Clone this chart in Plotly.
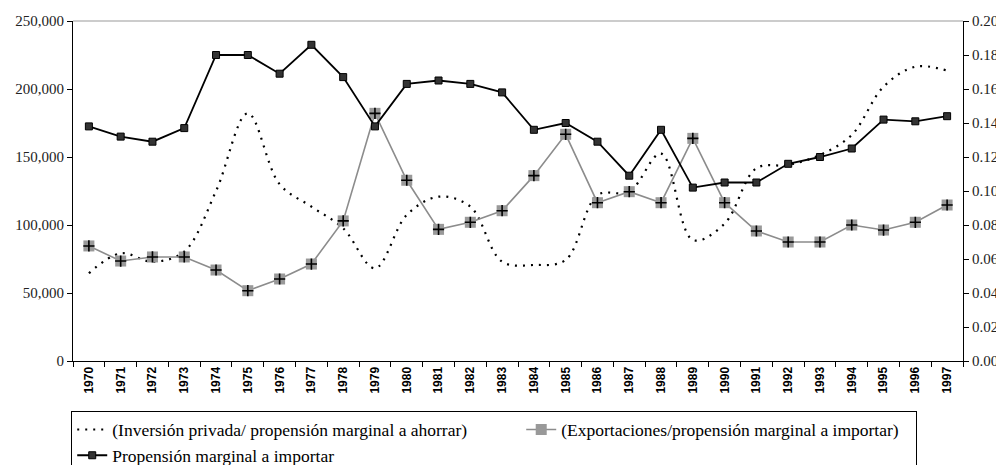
import plotly.graph_objects as go

years = [str(y) for y in range(1970, 1998)]

inversion_privada = [64500, 79200, 73000, 80500, 125000, 182100, 130000, 113500, 97600, 68200,
                     107400, 120800, 113500, 73000, 70600, 74300, 122000, 124500, 152500, 89000,
                     101000, 141700, 144100, 151500, 166200, 201700, 216400, 213500]

exportaciones = [84600, 73500, 76500, 76500, 66900, 51700, 60300, 71300, 103000, 182100,
                 132900, 96800, 102000, 110500, 136300, 166700, 116400, 124500, 116400, 163700,
                 116400, 95600, 87500, 87500, 100000, 96300, 102000, 114700]

propension_importar = [0.138, 0.132, 0.129, 0.137, 0.180, 0.180, 0.169, 0.186, 0.167, 0.138,
                       0.163, 0.165, 0.163, 0.158, 0.136, 0.140, 0.129, 0.109, 0.136, 0.102,
                       0.105, 0.105, 0.116, 0.120, 0.125, 0.142, 0.141, 0.144]

left_ticks = [0, 50000, 100000, 150000, 200000, 250000]
right_ticks = [0.00, 0.02, 0.04, 0.06, 0.08, 0.10, 0.12, 0.14, 0.16, 0.18, 0.20]

name1 = "(Inversión privada/ propensión marginal a ahorrar)"
name2 = "(Exportaciones/propensión marginal a importar)"
name3 = "Propensión marginal a importar"

serif = "Liberation Serif"

fig = go.Figure()

fig.add_trace(go.Scatter(
    x=years, y=inversion_privada, name=name1, mode="lines",
    line=dict(color="black", width=2.2, dash="2px,6px", shape="spline", smoothing=1.0),
    legendwidth=404, yaxis="y"))

fig.add_trace(go.Scatter(
    x=years, y=exportaciones, name=name2, mode="lines+markers",
    line=dict(color="#8c8c8c", width=1.6),
    marker=dict(symbol="square", size=11, color="#999999", line=dict(width=0)),
    legendwidth=350, yaxis="y"))

fig.add_trace(go.Scatter(
    x=years, y=exportaciones, name=name2, mode="markers", showlegend=False,
    marker=dict(symbol="cross-thin", size=8, line=dict(width=1.6, color="black")),
    hoverinfo="skip", yaxis="y"))

fig.add_trace(go.Scatter(
    x=years, y=propension_importar, name=name3, mode="lines+markers",
    line=dict(color="black", width=1.8),
    marker=dict(symbol="square", size=7, color="#333333", line=dict(width=1, color="black")),
    legendwidth=400, yaxis="y2"))

fig.update_layout(
    width=996, height=457,
    margin=dict(l=65, r=41, t=13, b=104, autoexpand=False),
    paper_bgcolor="white", plot_bgcolor="white",
    showlegend=True,
    xaxis=dict(
        type="category", range=[-0.5, len(years) - 0.5],
        showline=True, linecolor="black", linewidth=1.2,
        ticks="outside", ticklen=5, tickcolor="black", tickson="boundaries",
        tickangle=-90, showgrid=False, zeroline=False,
        tickfont=dict(family="Liberation Sans", size=12, color="black", weight="bold"),
    ),
    yaxis=dict(
        range=[0, 250000], tickvals=left_ticks, tickformat=",",
        showline=True, linecolor="black", linewidth=1.2,
        ticks="outside", ticklen=5, tickcolor="black",
        showgrid=False, zeroline=False,
        tickfont=dict(family=serif, size=15, color="#222222"),
    ),
    yaxis2=dict(
        range=[0, 0.20], tickvals=right_ticks, tickformat=".2f",
        overlaying="y", side="right", anchor="x",
        showline=True, linecolor="black", linewidth=1.2,
        ticks="outside", ticklen=5, tickcolor="black",
        showgrid=False, zeroline=False,
        tickfont=dict(family=serif, size=15, color="#222222"),
    ),
    legend=dict(
        orientation="h", x=-0.002, xanchor="left", y=-0.146, yanchor="top",
        bordercolor="black", borderwidth=1, bgcolor="white",
        font=dict(family=serif, size=17.5, color="black"),
        traceorder="normal",
    ),
    shapes=[dict(type="line", xref="paper", yref="paper", x0=0, x1=1, y0=1, y1=1,
                 line=dict(color="#999999", width=1.2))],
)

fig.write_html("out.html")
